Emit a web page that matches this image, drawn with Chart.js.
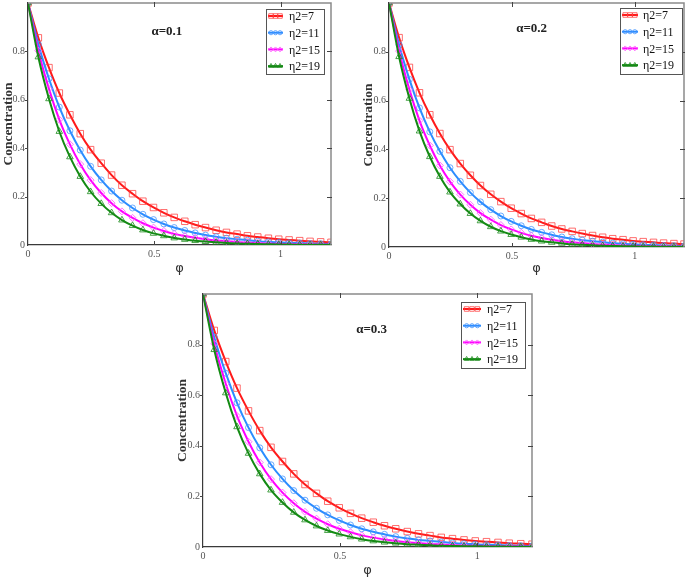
<!DOCTYPE html>
<html>
<head>
<meta charset="utf-8">
<script src="https://cdn.jsdelivr.net/npm/chart.js@4.4.0/dist/chart.umd.min.js"></script>
<style>
    body { margin: 0; background: #fff; }
    #wrap { position: relative; width: 685px; height: 578px; overflow: hidden; }
    canvas { position: absolute; }
</style>
</head>
<body>
<div id="wrap">
    <canvas id="c1" width="345" height="278" style="left:0px;top:0px;width:345px;height:278px"></canvas>
    <canvas id="c2" width="340" height="278" style="left:345px;top:0px;width:340px;height:278px"></canvas>
    <canvas id="c3" width="370" height="293" style="left:170px;top:285px;width:370px;height:293px"></canvas>
</div>
<script>
// data
const phi = [0, 0.041, 0.083, 0.124, 0.166, 0.207, 0.248, 0.29, 0.331, 0.372, 0.414, 0.455, 0.497, 0.538, 0.579,
             0.621, 0.662, 0.703, 0.745, 0.786, 0.828, 0.869, 0.91, 0.952, 0.993, 1.034, 1.076, 1.117, 1.159, 1.2];
const seriesNames = ['η2=7', 'η2=11', 'η2=15', 'η2=19'];
const xTicks = [0, 0.5, 1];
const yTicks = [0, 0.2, 0.4, 0.6, 0.8];

// alpha = 0.1
const a1Eta7  = [1, 0.856, 0.733, 0.628, 0.538, 0.46, 0.394, 0.338, 0.289, 0.247, 0.212, 0.181, 0.155, 0.133, 0.114, 0.098, 0.084, 0.072, 0.061, 0.052, 0.045, 0.038, 0.033, 0.028, 0.024, 0.021, 0.018, 0.015, 0.013, 0.011];
const a1Eta11 = [1, 0.829, 0.687, 0.57, 0.472, 0.392, 0.325, 0.269, 0.223, 0.185, 0.153, 0.127, 0.105, 0.087, 0.072, 0.06, 0.05, 0.041, 0.034, 0.028, 0.024, 0.02, 0.016, 0.013, 0.011, 0.009, 0.008, 0.006, 0.005, 0.004];
const a1Eta15 = [1, 0.803, 0.645, 0.518, 0.416, 0.334, 0.268, 0.215, 0.173, 0.139, 0.112, 0.09, 0.072, 0.058, 0.046, 0.037, 0.03, 0.024, 0.019, 0.016, 0.012, 0.01, 0.008, 0.006, 0.005, 0.004, 0.003, 0.003, 0.002, 0.002];
const a1Eta19 = [1, 0.777, 0.604, 0.469, 0.364, 0.283, 0.22, 0.171, 0.133, 0.103, 0.08, 0.062, 0.048, 0.038, 0.029, 0.023, 0.018, 0.014, 0.011, 0.008, 0.006, 0.005, 0.004, 0.003, 0.002, 0.002, 0.001, 0.001, 0.001, 0.001];

// alpha = 0.2
const a2Eta7  = [1, 0.858, 0.736, 0.632, 0.542, 0.465, 0.399, 0.342, 0.294, 0.252, 0.216, 0.186, 0.159, 0.137, 0.117, 0.101, 0.086, 0.074, 0.064, 0.055, 0.047, 0.04, 0.034, 0.03, 0.025, 0.022, 0.019, 0.016, 0.014, 0.012];
const a2Eta11 = [1, 0.829, 0.687, 0.57, 0.472, 0.392, 0.325, 0.269, 0.223, 0.185, 0.153, 0.127, 0.105, 0.087, 0.072, 0.06, 0.05, 0.041, 0.034, 0.028, 0.024, 0.02, 0.016, 0.013, 0.011, 0.009, 0.008, 0.006, 0.005, 0.004];
const a2Eta15 = [1, 0.803, 0.645, 0.518, 0.416, 0.334, 0.268, 0.215, 0.173, 0.139, 0.112, 0.09, 0.072, 0.058, 0.046, 0.037, 0.03, 0.024, 0.019, 0.016, 0.012, 0.01, 0.008, 0.006, 0.005, 0.004, 0.003, 0.003, 0.002, 0.002];
const a2Eta19 = [1, 0.78, 0.609, 0.475, 0.37, 0.289, 0.225, 0.176, 0.137, 0.107, 0.083, 0.065, 0.051, 0.04, 0.031, 0.024, 0.019, 0.015, 0.011, 0.009, 0.007, 0.005, 0.004, 0.003, 0.003, 0.002, 0.002, 0.001, 0.001, 0.001];

// alpha = 0.3
const a3Eta7  = [1, 0.856, 0.733, 0.628, 0.538, 0.46, 0.394, 0.338, 0.289, 0.247, 0.212, 0.181, 0.155, 0.133, 0.114, 0.098, 0.084, 0.072, 0.061, 0.052, 0.045, 0.038, 0.033, 0.028, 0.024, 0.021, 0.018, 0.015, 0.013, 0.011];
const a3Eta11 = [1, 0.829, 0.687, 0.57, 0.472, 0.392, 0.325, 0.269, 0.223, 0.185, 0.153, 0.127, 0.105, 0.087, 0.072, 0.06, 0.05, 0.041, 0.034, 0.028, 0.024, 0.02, 0.016, 0.013, 0.011, 0.009, 0.008, 0.006, 0.005, 0.004];
const a3Eta15 = [1, 0.803, 0.645, 0.518, 0.416, 0.334, 0.268, 0.215, 0.173, 0.139, 0.112, 0.09, 0.072, 0.058, 0.046, 0.037, 0.03, 0.024, 0.019, 0.016, 0.012, 0.01, 0.008, 0.006, 0.005, 0.004, 0.003, 0.003, 0.002, 0.002];
const a3Eta19 = [1, 0.78, 0.609, 0.475, 0.37, 0.289, 0.225, 0.176, 0.137, 0.107, 0.083, 0.065, 0.051, 0.04, 0.031, 0.024, 0.019, 0.015, 0.011, 0.009, 0.007, 0.005, 0.004, 0.003, 0.003, 0.002, 0.002, 0.001, 0.001, 0.001];

// styles
const lineColors = ['#ff1a1a', '#2b8cff', '#ff00ff', '#138a13'];
const markerColors = ['rgba(255,60,60,0.75)', 'rgba(70,150,255,0.8)', 'rgba(255,90,255,0.85)', 'rgba(30,140,30,0.8)'];
const markerStyles = ['rect', 'circle', 'rectRot', 'triangle'];
const markerSizes = [4.6, 3, 3.5, 3.8];
const serif = "'Liberation Serif', 'DejaVu Serif', serif";

// 테두리, 안쪽 눈금, 범례, 알파 라벨
const panelDeco = {
    id: 'panelDeco',
    afterDraw(chart, args, opts) {
        const ctx = chart.ctx;
        const a = chart.chartArea;
        const xs = chart.scales.x, ys = chart.scales.y;
        ctx.save();

        // top / right frame
        ctx.strokeStyle = '#8a8a8a';
        ctx.lineWidth = 1.5;
        ctx.beginPath();
        ctx.moveTo(a.left, a.top);
        ctx.lineTo(a.right, a.top);
        ctx.lineTo(a.right, a.bottom);
        ctx.stroke();

        // ticks
        ctx.lineWidth = 1;
        ctx.strokeStyle = '#444';
        ctx.beginPath();
        xTicks.forEach(v => {
            if (v === 0) return;
            const px = Math.round(xs.getPixelForValue(v)) + 0.5;
            ctx.moveTo(px, a.bottom); ctx.lineTo(px, a.bottom - 4);
            ctx.moveTo(px, a.top - 1); ctx.lineTo(px, a.top + 4);
        });
        yTicks.forEach(v => {
            if (v === 0) return;
            const py = Math.round(ys.getPixelForValue(v)) + 0.5;
            ctx.moveTo(a.left - 3, py); ctx.lineTo(a.left, py);
            ctx.moveTo(a.right - 4, py); ctx.lineTo(a.right + 1, py);
        });
        ctx.stroke();

        // alpha label
        ctx.fillStyle = '#222';
        ctx.font = 'bold 13px ' + serif;
        ctx.textAlign = 'center';
        ctx.textBaseline = 'middle';
        ctx.fillText(opts.label, xs.getPixelForValue(opts.labelAt[0]), ys.getPixelForValue(opts.labelAt[1]));

        // legend box
        const lg = opts.legend;
        const bx = Math.round(a.right - lg.right - lg.w), by = Math.round(a.top + lg.top);
        ctx.fillStyle = '#fff';
        ctx.fillRect(bx, by, lg.w, lg.h);
        ctx.strokeStyle = '#555';
        ctx.strokeRect(bx + 0.5, by + 0.5, lg.w, lg.h);
        ctx.font = '12px ' + serif;
        ctx.textAlign = 'left';
        chart.data.datasets.forEach((ds, i) => {
            const y = by + 7 + i * 16.7;
            ctx.strokeStyle = lineColors[i];
            ctx.lineWidth = 2;
            ctx.beginPath();
            ctx.moveTo(bx + 2, y);
            ctx.lineTo(bx + lg.sample, y);
            ctx.stroke();
            ctx.lineWidth = 1;
            ctx.fillStyle = 'rgba(255,255,255,0)';
            ctx.strokeStyle = markerColors[i];
            [0.2, 0.5, 0.8].forEach(f => {
                Chart.helpers.drawPoint(ctx, {
                    pointStyle: markerStyles[i], rotation: 0,
                    radius: markerSizes[i] * 0.7, borderWidth: 1
                }, bx + 2 + (lg.sample - 2) * f, y);
            });
            ctx.fillStyle = '#111';
            ctx.fillText(ds.label, bx + lg.text, y + 1);
        });
        ctx.restore();
    }
};

function makePanel(id, series, cfg) {
    const datasets = series.map((arr, i) => ({
        label: seriesNames[i],
        data: phi.map((x, k) => ({ x: x, y: arr[k] })),
        borderColor: lineColors[i],
        borderWidth: 2,
        cubicInterpolationMode: 'monotone',
        pointStyle: markerStyles[i],
        pointRadius: markerSizes[i],
        pointBorderWidth: 1,
        pointBorderColor: markerColors[i],
        pointBackgroundColor: 'rgba(255,255,255,0)',
        order: 3 - i
    }));
    const tickFont = { family: serif, size: 10 };
    return new Chart(document.getElementById(id), {
        type: 'line',
        data: { datasets: datasets },
        options: {
            responsive: false,
            animation: false,
            devicePixelRatio: 1,
            layout: { padding: cfg.pad, autoPadding: false },
            plugins: {
                legend: { display: false },
                tooltip: { enabled: false },
                panelDeco: { label: cfg.label, labelAt: cfg.labelAt, legend: cfg.legend }
            },
            scales: {
                x: {
                    type: 'linear', min: 0, max: 1.2,
                    afterBuildTicks: s => { s.ticks = xTicks.map(v => ({ value: v })); },
                    afterFit: s => { s.height = cfg.xh; s.paddingLeft = 0; s.paddingRight = 0; },
                    grid: { drawOnChartArea: false, drawTicks: false },
                    border: { display: true, color: '#3a3a3a', width: 1.2 },
                    ticks: { padding: 3, font: tickFont, color: '#555', maxRotation: 0, autoSkip: false, callback: v => String(v) },
                    title: { display: true, text: 'φ', font: { family: "'DejaVu Sans', sans-serif", size: 13 }, color: '#333', padding: 0 }
                },
                y: {
                    min: 0, max: 1,
                    afterBuildTicks: s => { s.ticks = yTicks.map(v => ({ value: v })); },
                    afterFit: s => { s.width = cfg.yw; s.paddingTop = 0; s.paddingBottom = 0; },
                    grid: { drawOnChartArea: false, drawTicks: false },
                    border: { display: true, color: '#3a3a3a', width: 1.2 },
                    ticks: { padding: 3, font: tickFont, color: '#555', autoSkip: false, callback: v => String(v) },
                    title: { display: true, text: 'Concentration', font: { family: serif, size: 13.5, weight: 'bold' }, color: '#333', padding: 0 }
                }
            }
        },
        plugins: [panelDeco]
    });
}

makePanel('c1', [a1Eta7, a1Eta11, a1Eta15, a1Eta19], {
    pad: { left: 0, right: 14, top: 3, bottom: 2 }, yw: 28, xh: 31,
    label: 'α=0.1', labelAt: [0.55, 0.88],
    legend: { right: 7, top: 6, w: 58, h: 65, sample: 17, text: 23 }
});
makePanel('c2', [a2Eta7, a2Eta11, a2Eta15, a2Eta19], {
    pad: { left: 15, right: 1, top: 3, bottom: 2 }, yw: 29, xh: 29,
    label: 'α=0.2', labelAt: [0.58, 0.895],
    legend: { right: 2, top: 5, w: 62, h: 66, sample: 18, text: 23 }
});
makePanel('c3', [a3Eta7, a3Eta11, a3Eta15, a3Eta19], {
    pad: { left: 4, right: 8, top: 9, bottom: 0 }, yw: 29, xh: 31,
    label: 'α=0.3', labelAt: [0.615, 0.86],
    legend: { right: 7, top: 8, w: 64, h: 66, sample: 20, text: 26 }
});
</script>
</body>
</html>
